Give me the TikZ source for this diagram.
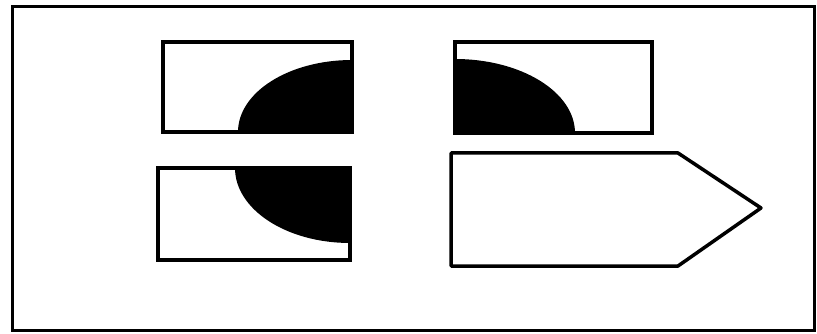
\documentclass[tikz,border=0pt]{standalone}
\begin{document}
\begin{tikzpicture}[x=1pt,y=-1pt,
  outline/.style={draw=black,line width=3.5pt},
  frame/.style={draw=black,line width=3pt}]
\useasboundingbox (0,0) rectangle (817,334);
\fill[white] (0,0) rectangle (817,334);
\draw[frame] (12,7) rectangle (814,330);
% top-left box
\begin{scope}
  \clip (163,42) rectangle (352,132);
  \fill[black] (352,132) ellipse [x radius=114, y radius=72];
\end{scope}
\draw[outline] (163,42) rectangle (352,132);
% top-right box
\begin{scope}
  \clip (455,42) rectangle (652,133);
  \fill[black] (455,133) ellipse [x radius=120, y radius=74];
\end{scope}
\draw[outline] (455,42) rectangle (652,133);
% bottom-left box
\begin{scope}
  \clip (158,168) rectangle (350,260);
  \fill[black] (350,168) ellipse [x radius=115, y radius=75];
\end{scope}
\draw[outline] (158,168) rectangle (350,260);
% pentagon
\draw[outline,line join=round] (451,153) -- (678,153) -- (761,208) -- (678,266) -- (451,266) -- cycle;
\end{tikzpicture}
\end{document}
